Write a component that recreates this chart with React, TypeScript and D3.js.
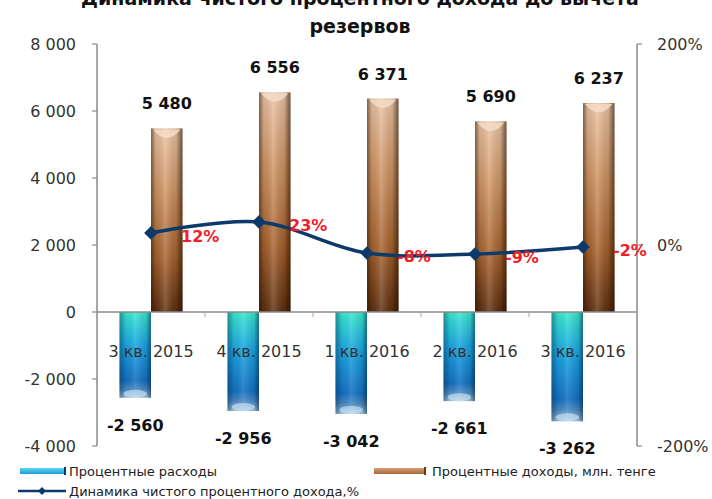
import React from "react";
import * as d3 from "d3";

const categories = ["3 кв. 2015", "4 кв. 2015", "1 кв. 2016", "2 кв. 2016", "3 кв. 2016"];
const income = [5480, 6556, 6371, 5690, 6237];
const expenses = [-2560, -2956, -3042, -2661, -3262];
const dynamics = [12, 23, -8, -9, -2];
const leftTicks = [8000, 6000, 4000, 2000, 0, -2000, -4000];
const rightTicks = [200, 0, -200];
const titleLines = ["Динамика чистого процентного дохода до вычета", "резервов"];
const legendNames = ["Процентные расходы", "Процентные доходы, млн. тенге", "Динамика чистого процентного дохода,%"];

const W = 712;
const H = 499;
const FONT = "'DejaVu Sans', sans-serif";

const locale = d3.formatLocale({ thousands: " ", grouping: [3], decimal: ",", currency: ["", ""], minus: "-" });
const fmt = locale.format(",d");

export default function App() {
  const x0 = 97, x1 = 637;
  const x = d3.scaleBand<string>().domain(categories).range([x0, x1]);
  const yL = d3.scaleLinear().domain([-4000, 8000]).range([446, 44]);
  const yR = d3.scaleLinear().domain([-200, 200]).range([446, 44]);
  const bw = 31.5;
  const cx = (c: string) => (x(c) as number) + x.bandwidth() / 2;

  const line = d3
    .line<number>()
    .x((_, i) => cx(categories[i]))
    .y((d) => yR(d))
    .curve(d3.curveCatmullRom.alpha(0.5));

  const diamond = d3.symbol().type(d3.symbolDiamond2).size(120)() as string;
  const diamondSmall = d3.symbol().type(d3.symbolDiamond2).size(40)() as string;

  return (
    <svg width={W} height={H} style={{ position: "absolute", left: 0, top: 0, background: "#fff" }}>
      <defs>
        <linearGradient id="orV" x1="0" y1="0" x2="0" y2="1">
          <stop offset="0" stopColor="#ecc4a6" />
          <stop offset="0.3" stopColor="#d49a6a" />
          <stop offset="0.7" stopColor="#a7622c" />
          <stop offset="1" stopColor="#5e2e0e" />
        </linearGradient>
        <linearGradient id="cyV" x1="0" y1="0" x2="0" y2="1">
          <stop offset="0" stopColor="#3aeacb" />
          <stop offset="0.12" stopColor="#2fd2d6" />
          <stop offset="0.4" stopColor="#1aa2e2" />
          <stop offset="0.8" stopColor="#1270c2" />
          <stop offset="0.9" stopColor="#4a8ac4" />
          <stop offset="1" stopColor="#a6cbe6" />
        </linearGradient>
        <linearGradient id="shadeH" x1="0" y1="0" x2="1" y2="0">
          <stop offset="0" stopColor="#2a1405" stopOpacity="0.55" />
          <stop offset="0.15" stopColor="#000" stopOpacity="0.08" />
          <stop offset="0.45" stopColor="#fff" stopOpacity="0.18" />
          <stop offset="0.8" stopColor="#000" stopOpacity="0.1" />
          <stop offset="1" stopColor="#1a0a02" stopOpacity="0.6" />
        </linearGradient>
        <linearGradient id="shadeC" x1="0" y1="0" x2="1" y2="0">
          <stop offset="0" stopColor="#06305a" stopOpacity="0.45" />
          <stop offset="0.2" stopColor="#000" stopOpacity="0.05" />
          <stop offset="0.5" stopColor="#fff" stopOpacity="0.12" />
          <stop offset="0.85" stopColor="#000" stopOpacity="0.1" />
          <stop offset="1" stopColor="#04203e" stopOpacity="0.55" />
        </linearGradient>
        <linearGradient id="legC" x1="0" y1="0" x2="0" y2="1">
          <stop offset="0" stopColor="#5fd8ee" />
          <stop offset="1" stopColor="#1a9ad4" />
        </linearGradient>
        <linearGradient id="legO" x1="0" y1="0" x2="0" y2="1">
          <stop offset="0" stopColor="#d9a07a" />
          <stop offset="1" stopColor="#a86438" />
        </linearGradient>
      </defs>
      <rect x={0} y={0} width={W} height={H} fill="#fff" />

      {/* title */}
      {titleLines.map((t, i) => (
        <text key={t} x={360} y={5 + i * 28} textAnchor="middle" fontFamily={FONT} fontWeight="bold" fontSize={19} fill="#111">
          {t}
        </text>
      ))}

      {/* bars */}
      {categories.map((c, i) => {
        const cc = cx(c);
        const top = yL(income[i]);
        const base = yL(0);
        const bot = yL(expenses[i]);
        return (
          <g key={c}>
            <rect x={cc} y={top} width={bw} height={base - top} fill="url(#orV)" />
            <rect x={cc} y={top} width={bw} height={base - top} fill="url(#shadeH)" />
            <path
              d={`M${cc + 2},${top + 1} L${cc + bw - 2},${top + 1} Q${cc + bw / 2},${top + 18} ${cc + 2},${top + 1} Z`}
              fill="#f6dcc6"
              opacity={0.85}
            />
            <rect x={cc - bw} y={base} width={bw} height={bot - base} fill="url(#cyV)" />
            <rect x={cc - bw} y={base} width={bw} height={bot - base} fill="url(#shadeC)" />
            <ellipse cx={cc - bw / 2} cy={bot - 4} rx={bw / 2 - 4} ry={4} fill="#cfe6f5" opacity={0.6} />
          </g>
        );
      })}

      {/* axes */}
      <line x1={x0} x2={x1} y1={yL(0)} y2={yL(0)} stroke="#8a8a8a" strokeWidth={1.5} />
      <line x1={x0} x2={x0} y1={yL(8000)} y2={yL(-4000)} stroke="#8a8a8a" strokeWidth={1.5} />
      <line x1={x1} x2={x1} y1={yR(200)} y2={yR(-200)} stroke="#8a8a8a" strokeWidth={1.5} />
      {leftTicks.map((t) => (
        <g key={"l" + t}>
          <line x1={x0 - 5} x2={x0} y1={yL(t)} y2={yL(t)} stroke="#8a8a8a" strokeWidth={1.2} />
          <text x={76} y={yL(t)} dy="0.36em" textAnchor="end" fontFamily={FONT} fontSize={16} fill="#333">
            {fmt(t)}
          </text>
        </g>
      ))}
      {rightTicks.map((t) => (
        <g key={"r" + t}>
          <line x1={x1} x2={x1 + 5} y1={yR(t)} y2={yR(t)} stroke="#8a8a8a" strokeWidth={1.2} />
          <text x={657} y={yR(t)} dy="0.36em" textAnchor="start" fontFamily={FONT} fontSize={16} fill="#333">
            {t + "%"}
          </text>
        </g>
      ))}
      {categories.slice(1).map((c) => (
        <line key={"t" + c} x1={x(c)} x2={x(c)} y1={yL(0)} y2={yL(0) + 5} stroke="#aaa" strokeWidth={1} />
      ))}

      {/* category labels */}
      {categories.map((c) => (
        <text key={"c" + c} x={cx(c)} y={357} textAnchor="middle" fontFamily={FONT} fontSize={16} fill="#333">
          {c}
        </text>
      ))}

      {/* value labels */}
      {categories.map((c, i) => (
        <g key={"v" + c}>
          <text x={cx(c) + bw / 2} y={yL(income[i]) - 19} textAnchor="middle" fontFamily={FONT} fontWeight="bold" fontSize={16} fill="#111">
            {fmt(income[i])}
          </text>
          <text x={cx(c) - bw / 2} y={yL(expenses[i]) + 33} textAnchor="middle" fontFamily={FONT} fontWeight="bold" fontSize={16} fill="#111">
            {fmt(expenses[i])}
          </text>
        </g>
      ))}

      {/* line */}
      <path d={line(dynamics) as string} fill="none" stroke="#0e3a6b" strokeWidth={3.5} />
      {dynamics.map((d, i) => (
        <path key={"m" + i} d={diamond} transform={`translate(${cx(categories[i])},${yR(d)})`} fill="#0e3a6b" />
      ))}
      {dynamics.map((d, i) => (
        <text key={"p" + i} x={cx(categories[i]) + 30} y={yR(d) + 9} textAnchor="start" fontFamily={FONT} fontWeight="bold" fontSize={16} fill="#f0202a">
          {d + "%"}
        </text>
      ))}

      {/* legend */}
      <rect x={20} y={468} width={46} height={6} fill="url(#legC)" />
      <rect x={64} y={467} width={2} height={8} fill="#0a3a6a" />
      <text x={69} y={476} fontFamily={FONT} fontSize={13} fill="#222">{legendNames[0]}</text>
      <rect x={374} y={468} width={52} height={6} fill="url(#legO)" />
      <rect x={424} y={467} width={2} height={8} fill="#6a3510" />
      <text x={432} y={476} fontFamily={FONT} fontSize={13} fill="#222">{legendNames[1]}</text>
      <line x1={18} x2={66} y1={491} y2={491} stroke="#0e3a6b" strokeWidth={2.5} />
      <path d={diamondSmall} transform="translate(42,491)" fill="#0e3a6b" />
      <text x={69} y={496} fontFamily={FONT} fontSize={13} fill="#222">{legendNames[2]}</text>
    </svg>
  );
}
